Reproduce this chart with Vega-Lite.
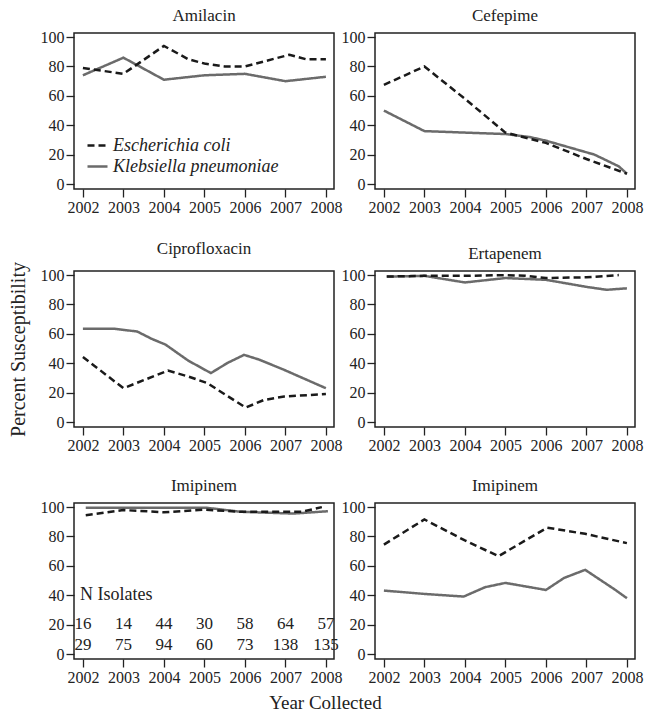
{
  "$schema": "https://vega.github.io/schema/vega-lite/v6.json",
  "padding": {"left": 7, "top": 6, "right": 2, "bottom": 4},
  "background": "white",
  "title": {"text": "Year Collected", "orient": "bottom", "anchor": "middle", "fontSize": 19, "fontWeight": "normal", "font": "Liberation Serif", "color": "#222", "offset": 8},
  "datasets": {
    "pct": [
      {"panel": 1, "drug": "Amilacin", "organism": "Klebsiella pneumoniae", "year": 2002, "pct": 74},
      {"panel": 1, "drug": "Amilacin", "organism": "Klebsiella pneumoniae", "year": 2003, "pct": 86},
      {"panel": 1, "drug": "Amilacin", "organism": "Klebsiella pneumoniae", "year": 2004, "pct": 71},
      {"panel": 1, "drug": "Amilacin", "organism": "Klebsiella pneumoniae", "year": 2005, "pct": 74},
      {"panel": 1, "drug": "Amilacin", "organism": "Klebsiella pneumoniae", "year": 2006, "pct": 75},
      {"panel": 1, "drug": "Amilacin", "organism": "Klebsiella pneumoniae", "year": 2007, "pct": 70},
      {"panel": 1, "drug": "Amilacin", "organism": "Klebsiella pneumoniae", "year": 2008, "pct": 73},
      {"panel": 1, "drug": "Amilacin", "organism": "Escherichia coli", "year": 2002, "pct": 79},
      {"panel": 1, "drug": "Amilacin", "organism": "Escherichia coli", "year": 2003, "pct": 75},
      {"panel": 1, "drug": "Amilacin", "organism": "Escherichia coli", "year": 2004, "pct": 94},
      {"panel": 1, "drug": "Amilacin", "organism": "Escherichia coli", "year": 2004.6, "pct": 85},
      {"panel": 1, "drug": "Amilacin", "organism": "Escherichia coli", "year": 2005, "pct": 82},
      {"panel": 1, "drug": "Amilacin", "organism": "Escherichia coli", "year": 2005.5, "pct": 80},
      {"panel": 1, "drug": "Amilacin", "organism": "Escherichia coli", "year": 2006, "pct": 80},
      {"panel": 1, "drug": "Amilacin", "organism": "Escherichia coli", "year": 2007.1, "pct": 88},
      {"panel": 1, "drug": "Amilacin", "organism": "Escherichia coli", "year": 2007.5, "pct": 85},
      {"panel": 1, "drug": "Amilacin", "organism": "Escherichia coli", "year": 2008, "pct": 85},

      {"panel": 2, "drug": "Cefepime", "organism": "Klebsiella pneumoniae", "year": 2002, "pct": 50},
      {"panel": 2, "drug": "Cefepime", "organism": "Klebsiella pneumoniae", "year": 2003, "pct": 36},
      {"panel": 2, "drug": "Cefepime", "organism": "Klebsiella pneumoniae", "year": 2004, "pct": 35},
      {"panel": 2, "drug": "Cefepime", "organism": "Klebsiella pneumoniae", "year": 2005, "pct": 34},
      {"panel": 2, "drug": "Cefepime", "organism": "Klebsiella pneumoniae", "year": 2005.6, "pct": 32},
      {"panel": 2, "drug": "Cefepime", "organism": "Klebsiella pneumoniae", "year": 2006, "pct": 29.5},
      {"panel": 2, "drug": "Cefepime", "organism": "Klebsiella pneumoniae", "year": 2007.2, "pct": 20},
      {"panel": 2, "drug": "Cefepime", "organism": "Klebsiella pneumoniae", "year": 2007.8, "pct": 12},
      {"panel": 2, "drug": "Cefepime", "organism": "Klebsiella pneumoniae", "year": 2008, "pct": 7},
      {"panel": 2, "drug": "Cefepime", "organism": "Escherichia coli", "year": 2002, "pct": 67.5},
      {"panel": 2, "drug": "Cefepime", "organism": "Escherichia coli", "year": 2003, "pct": 80},
      {"panel": 2, "drug": "Cefepime", "organism": "Escherichia coli", "year": 2004, "pct": 58},
      {"panel": 2, "drug": "Cefepime", "organism": "Escherichia coli", "year": 2005, "pct": 35},
      {"panel": 2, "drug": "Cefepime", "organism": "Escherichia coli", "year": 2006, "pct": 28},
      {"panel": 2, "drug": "Cefepime", "organism": "Escherichia coli", "year": 2007, "pct": 17},
      {"panel": 2, "drug": "Cefepime", "organism": "Escherichia coli", "year": 2008, "pct": 7},

      {"panel": 3, "drug": "Ciprofloxacin", "organism": "Klebsiella pneumoniae", "year": 2002, "pct": 63.5},
      {"panel": 3, "drug": "Ciprofloxacin", "organism": "Klebsiella pneumoniae", "year": 2002.77, "pct": 63.5},
      {"panel": 3, "drug": "Ciprofloxacin", "organism": "Klebsiella pneumoniae", "year": 2003.34, "pct": 61.6},
      {"panel": 3, "drug": "Ciprofloxacin", "organism": "Klebsiella pneumoniae", "year": 2003.7, "pct": 56.6},
      {"panel": 3, "drug": "Ciprofloxacin", "organism": "Klebsiella pneumoniae", "year": 2004.04, "pct": 52.7},
      {"panel": 3, "drug": "Ciprofloxacin", "organism": "Klebsiella pneumoniae", "year": 2004.6, "pct": 41.8},
      {"panel": 3, "drug": "Ciprofloxacin", "organism": "Klebsiella pneumoniae", "year": 2005.16, "pct": 33.3},
      {"panel": 3, "drug": "Ciprofloxacin", "organism": "Klebsiella pneumoniae", "year": 2005.57, "pct": 40.2},
      {"panel": 3, "drug": "Ciprofloxacin", "organism": "Klebsiella pneumoniae", "year": 2005.98, "pct": 45.7},
      {"panel": 3, "drug": "Ciprofloxacin", "organism": "Klebsiella pneumoniae", "year": 2006.35, "pct": 42.5},
      {"panel": 3, "drug": "Ciprofloxacin", "organism": "Klebsiella pneumoniae", "year": 2006.96, "pct": 35.6},
      {"panel": 3, "drug": "Ciprofloxacin", "organism": "Klebsiella pneumoniae", "year": 2008, "pct": 23},
      {"panel": 3, "drug": "Ciprofloxacin", "organism": "Escherichia coli", "year": 2002, "pct": 44.3},
      {"panel": 3, "drug": "Ciprofloxacin", "organism": "Escherichia coli", "year": 2003, "pct": 23},
      {"panel": 3, "drug": "Ciprofloxacin", "organism": "Escherichia coli", "year": 2004.1, "pct": 35},
      {"panel": 3, "drug": "Ciprofloxacin", "organism": "Escherichia coli", "year": 2004.6, "pct": 31},
      {"panel": 3, "drug": "Ciprofloxacin", "organism": "Escherichia coli", "year": 2005.07, "pct": 26.5},
      {"panel": 3, "drug": "Ciprofloxacin", "organism": "Escherichia coli", "year": 2006.02, "pct": 9.8},
      {"panel": 3, "drug": "Ciprofloxacin", "organism": "Escherichia coli", "year": 2006.47, "pct": 15},
      {"panel": 3, "drug": "Ciprofloxacin", "organism": "Escherichia coli", "year": 2006.97, "pct": 17.4},
      {"panel": 3, "drug": "Ciprofloxacin", "organism": "Escherichia coli", "year": 2008, "pct": 19},

      {"panel": 4, "drug": "Ertapenem", "organism": "Klebsiella pneumoniae", "year": 2002.07, "pct": 99},
      {"panel": 4, "drug": "Ertapenem", "organism": "Klebsiella pneumoniae", "year": 2003, "pct": 99.5},
      {"panel": 4, "drug": "Ertapenem", "organism": "Klebsiella pneumoniae", "year": 2004, "pct": 95},
      {"panel": 4, "drug": "Ertapenem", "organism": "Klebsiella pneumoniae", "year": 2005, "pct": 98},
      {"panel": 4, "drug": "Ertapenem", "organism": "Klebsiella pneumoniae", "year": 2006, "pct": 96.8},
      {"panel": 4, "drug": "Ertapenem", "organism": "Klebsiella pneumoniae", "year": 2007, "pct": 92},
      {"panel": 4, "drug": "Ertapenem", "organism": "Klebsiella pneumoniae", "year": 2007.5, "pct": 90},
      {"panel": 4, "drug": "Ertapenem", "organism": "Klebsiella pneumoniae", "year": 2008, "pct": 91},
      {"panel": 4, "drug": "Ertapenem", "organism": "Escherichia coli", "year": 2002.07, "pct": 99},
      {"panel": 4, "drug": "Ertapenem", "organism": "Escherichia coli", "year": 2003, "pct": 99.5},
      {"panel": 4, "drug": "Ertapenem", "organism": "Escherichia coli", "year": 2004, "pct": 99.5},
      {"panel": 4, "drug": "Ertapenem", "organism": "Escherichia coli", "year": 2005, "pct": 100},
      {"panel": 4, "drug": "Ertapenem", "organism": "Escherichia coli", "year": 2005.5, "pct": 99.5},
      {"panel": 4, "drug": "Ertapenem", "organism": "Escherichia coli", "year": 2006, "pct": 98},
      {"panel": 4, "drug": "Ertapenem", "organism": "Escherichia coli", "year": 2007, "pct": 98.5},
      {"panel": 4, "drug": "Ertapenem", "organism": "Escherichia coli", "year": 2007.8, "pct": 100},

      {"panel": 5, "drug": "Imipinem", "organism": "Klebsiella pneumoniae", "year": 2002.07, "pct": 99.5},
      {"panel": 5, "drug": "Imipinem", "organism": "Klebsiella pneumoniae", "year": 2005.07, "pct": 99.5},
      {"panel": 5, "drug": "Imipinem", "organism": "Klebsiella pneumoniae", "year": 2005.9, "pct": 96.8},
      {"panel": 5, "drug": "Imipinem", "organism": "Klebsiella pneumoniae", "year": 2007.2, "pct": 95.6},
      {"panel": 5, "drug": "Imipinem", "organism": "Klebsiella pneumoniae", "year": 2008.05, "pct": 97.2},
      {"panel": 5, "drug": "Imipinem", "organism": "Escherichia coli", "year": 2002.07, "pct": 94.5},
      {"panel": 5, "drug": "Imipinem", "organism": "Escherichia coli", "year": 2003, "pct": 98},
      {"panel": 5, "drug": "Imipinem", "organism": "Escherichia coli", "year": 2004, "pct": 96.5},
      {"panel": 5, "drug": "Imipinem", "organism": "Escherichia coli", "year": 2005, "pct": 98.3},
      {"panel": 5, "drug": "Imipinem", "organism": "Escherichia coli", "year": 2005.9, "pct": 96.8},
      {"panel": 5, "drug": "Imipinem", "organism": "Escherichia coli", "year": 2007.4, "pct": 96.8},
      {"panel": 5, "drug": "Imipinem", "organism": "Escherichia coli", "year": 2007.9, "pct": 100},

      {"panel": 6, "drug": "Imipinem", "organism": "Klebsiella pneumoniae", "year": 2002, "pct": 43.2},
      {"panel": 6, "drug": "Imipinem", "organism": "Klebsiella pneumoniae", "year": 2003, "pct": 40.9},
      {"panel": 6, "drug": "Imipinem", "organism": "Klebsiella pneumoniae", "year": 2003.97, "pct": 39.1},
      {"panel": 6, "drug": "Imipinem", "organism": "Klebsiella pneumoniae", "year": 2004.5, "pct": 45.5},
      {"panel": 6, "drug": "Imipinem", "organism": "Klebsiella pneumoniae", "year": 2005, "pct": 48.4},
      {"panel": 6, "drug": "Imipinem", "organism": "Klebsiella pneumoniae", "year": 2006, "pct": 43.6},
      {"panel": 6, "drug": "Imipinem", "organism": "Klebsiella pneumoniae", "year": 2006.45, "pct": 51.8},
      {"panel": 6, "drug": "Imipinem", "organism": "Klebsiella pneumoniae", "year": 2006.97, "pct": 57.3},
      {"panel": 6, "drug": "Imipinem", "organism": "Klebsiella pneumoniae", "year": 2007.7, "pct": 43.9},
      {"panel": 6, "drug": "Imipinem", "organism": "Klebsiella pneumoniae", "year": 2008, "pct": 38},
      {"panel": 6, "drug": "Imipinem", "organism": "Escherichia coli", "year": 2002, "pct": 74.5},
      {"panel": 6, "drug": "Imipinem", "organism": "Escherichia coli", "year": 2003, "pct": 91.6},
      {"panel": 6, "drug": "Imipinem", "organism": "Escherichia coli", "year": 2004, "pct": 77.3},
      {"panel": 6, "drug": "Imipinem", "organism": "Escherichia coli", "year": 2004.83, "pct": 66.6},
      {"panel": 6, "drug": "Imipinem", "organism": "Escherichia coli", "year": 2006.03, "pct": 86},
      {"panel": 6, "drug": "Imipinem", "organism": "Escherichia coli", "year": 2006.97, "pct": 81.8},
      {"panel": 6, "drug": "Imipinem", "organism": "Escherichia coli", "year": 2008, "pct": 75.5}
    ],
    "isolates": [
      {"organism": "Escherichia coli", "year": 2002, "n": 16},
      {"organism": "Escherichia coli", "year": 2003, "n": 14},
      {"organism": "Escherichia coli", "year": 2004, "n": 44},
      {"organism": "Escherichia coli", "year": 2005, "n": 30},
      {"organism": "Escherichia coli", "year": 2006, "n": 58},
      {"organism": "Escherichia coli", "year": 2007, "n": 64},
      {"organism": "Escherichia coli", "year": 2008, "n": 57},
      {"organism": "Klebsiella pneumoniae", "year": 2002, "n": 29},
      {"organism": "Klebsiella pneumoniae", "year": 2003, "n": 75},
      {"organism": "Klebsiella pneumoniae", "year": 2004, "n": 94},
      {"organism": "Klebsiella pneumoniae", "year": 2005, "n": 60},
      {"organism": "Klebsiella pneumoniae", "year": 2006, "n": 73},
      {"organism": "Klebsiella pneumoniae", "year": 2007, "n": 138},
      {"organism": "Klebsiella pneumoniae", "year": 2008, "n": 135}
    ]
  },
  "columns": 2,
  "align": "each",
  "spacing": {"row": 22, "column": -3},
  "concat": [
    {
      "title": "Amilacin", "width": 260, "height": 156,
      "data": {"name": "pct"},
      "transform": [{"filter": "datum.panel === 1"}],
      "mark": {"type": "line", "strokeWidth": 2.5},
      "encoding": {
        "x": {"field": "year", "type": "quantitative", "scale": {"domain": [2001.78, 2008.2], "nice": false, "zero": false}, "axis": {"values": [2002, 2003, 2004, 2005, 2006, 2007, 2008], "format": "d", "title": null}},
        "y": {"field": "pct", "type": "quantitative", "scale": {"domain": [-3.4, 102.8], "nice": false}, "axis": {"values": [0, 20, 40, 60, 80, 100], "title": null}},
        "color": {"field": "organism", "type": "nominal", "scale": {"domain": ["Escherichia coli", "Klebsiella pneumoniae"], "range": ["#1a1a1a", "#6b6b6b"]},
          "legend": {"title": null, "orient": "none", "legendX": 12, "legendY": 101, "symbolType": "stroke", "symbolSize": 400, "symbolStrokeWidth": 2.5, "labelFont": "Liberation Serif", "labelFontSize": 18, "labelFontStyle": "italic", "labelColor": "#222", "labelOffset": 4, "labelLimit": 0, "rowPadding": 0}},
        "strokeDash": {"field": "organism", "type": "nominal", "scale": {"domain": ["Escherichia coli", "Klebsiella pneumoniae"], "range": [[7, 4], [1, 0]]},
          "legend": {"title": null, "orient": "none", "legendX": 12, "legendY": 101, "symbolType": "stroke", "symbolSize": 400, "symbolStrokeWidth": 2.5, "labelFont": "Liberation Serif", "labelFontSize": 18, "labelFontStyle": "italic", "labelColor": "#222", "labelOffset": 4, "labelLimit": 0, "rowPadding": 0}}
      }
    },
    {
      "title": "Cefepime", "width": 260, "height": 156,
      "data": {"name": "pct"},
      "transform": [{"filter": "datum.panel === 2"}],
      "mark": {"type": "line", "strokeWidth": 2.5},
      "encoding": {
        "x": {"field": "year", "type": "quantitative", "scale": {"domain": [2001.78, 2008.2], "nice": false, "zero": false}, "axis": {"values": [2002, 2003, 2004, 2005, 2006, 2007, 2008], "format": "d", "title": null}},
        "y": {"field": "pct", "type": "quantitative", "scale": {"domain": [-3.4, 102.8], "nice": false}, "axis": {"values": [0, 20, 40, 60, 80, 100], "title": null}},
        "color": {"field": "organism", "type": "nominal", "scale": {"domain": ["Escherichia coli", "Klebsiella pneumoniae"], "range": ["#1a1a1a", "#6b6b6b"]}, "legend": null},
        "strokeDash": {"field": "organism", "type": "nominal", "scale": {"domain": ["Escherichia coli", "Klebsiella pneumoniae"], "range": [[7, 4], [1, 0]]}, "legend": null}
      }
    },
    {
      "title": "Ciprofloxacin", "width": 260, "height": 156,
      "data": {"name": "pct"},
      "transform": [{"filter": "datum.panel === 3"}],
      "mark": {"type": "line", "strokeWidth": 2.5},
      "encoding": {
        "x": {"field": "year", "type": "quantitative", "scale": {"domain": [2001.78, 2008.2], "nice": false, "zero": false}, "axis": {"values": [2002, 2003, 2004, 2005, 2006, 2007, 2008], "format": "d", "title": null}},
        "y": {"field": "pct", "type": "quantitative", "scale": {"domain": [-3.4, 102.8], "nice": false}, "axis": {"values": [0, 20, 40, 60, 80, 100], "title": "Percent Susceptibility", "titleFontSize": 20, "titlePadding": 12}},
        "color": {"field": "organism", "type": "nominal", "scale": {"domain": ["Escherichia coli", "Klebsiella pneumoniae"], "range": ["#1a1a1a", "#6b6b6b"]}, "legend": null},
        "strokeDash": {"field": "organism", "type": "nominal", "scale": {"domain": ["Escherichia coli", "Klebsiella pneumoniae"], "range": [[7, 4], [1, 0]]}, "legend": null}
      }
    },
    {
      "title": "Ertapenem", "width": 260, "height": 156,
      "data": {"name": "pct"},
      "transform": [{"filter": "datum.panel === 4"}],
      "mark": {"type": "line", "strokeWidth": 2.5},
      "encoding": {
        "x": {"field": "year", "type": "quantitative", "scale": {"domain": [2001.78, 2008.2], "nice": false, "zero": false}, "axis": {"values": [2002, 2003, 2004, 2005, 2006, 2007, 2008], "format": "d", "title": null}},
        "y": {"field": "pct", "type": "quantitative", "scale": {"domain": [-3.4, 102.8], "nice": false}, "axis": {"values": [0, 20, 40, 60, 80, 100], "title": null}},
        "color": {"field": "organism", "type": "nominal", "scale": {"domain": ["Escherichia coli", "Klebsiella pneumoniae"], "range": ["#1a1a1a", "#6b6b6b"]}, "legend": null},
        "strokeDash": {"field": "organism", "type": "nominal", "scale": {"domain": ["Escherichia coli", "Klebsiella pneumoniae"], "range": [[7, 4], [1, 0]]}, "legend": null}
      }
    },
    {
      "title": "Imipinem", "width": 260, "height": 156,
      "layer": [
        {
          "data": {"name": "pct"},
          "transform": [{"filter": "datum.panel === 5"}],
          "mark": {"type": "line", "strokeWidth": 2.5},
          "encoding": {
            "x": {"field": "year", "type": "quantitative", "scale": {"domain": [2001.78, 2008.2], "nice": false, "zero": false}, "axis": {"values": [2002, 2003, 2004, 2005, 2006, 2007, 2008], "format": "d", "title": null}},
            "y": {"field": "pct", "type": "quantitative", "scale": {"domain": [-3.4, 102.8], "nice": false}, "axis": {"values": [0, 20, 40, 60, 80, 100], "title": null}},
            "color": {"field": "organism", "type": "nominal", "scale": {"domain": ["Escherichia coli", "Klebsiella pneumoniae"], "range": ["#1a1a1a", "#6b6b6b"]}, "legend": null},
            "strokeDash": {"field": "organism", "type": "nominal", "scale": {"domain": ["Escherichia coli", "Klebsiella pneumoniae"], "range": [[7, 4], [1, 0]]}, "legend": null}
          }
        },
        {
          "data": {"values": [{"label": "N Isolates"}]},
          "mark": {"type": "text", "align": "left", "baseline": "middle", "dx": -3, "font": "Liberation Serif", "fontSize": 18, "color": "#222"},
          "encoding": {
            "x": {"datum": 2002, "type": "quantitative", "scale": {"domain": [2001.78, 2008.2], "nice": false, "zero": false}, "axis": {"values": [2002, 2003, 2004, 2005, 2006, 2007, 2008], "format": "d", "title": null}},
            "y": {"datum": 40, "type": "quantitative", "scale": {"domain": [-3.4, 102.8], "nice": false}, "axis": {"values": [0, 20, 40, 60, 80, 100], "title": null}},
            "text": {"field": "label"}
          }
        },
        {
          "data": {"name": "isolates"},
          "transform": [{"filter": "datum.organism === 'Escherichia coli'"}],
          "mark": {"type": "text", "align": "center", "baseline": "middle", "font": "Liberation Serif", "fontSize": 17, "color": "#222"},
          "encoding": {
            "x": {"field": "year", "type": "quantitative", "scale": {"domain": [2001.78, 2008.2], "nice": false, "zero": false}, "axis": {"values": [2002, 2003, 2004, 2005, 2006, 2007, 2008], "format": "d", "title": null}},
            "y": {"datum": 20.7, "type": "quantitative", "scale": {"domain": [-3.4, 102.8], "nice": false}, "axis": {"values": [0, 20, 40, 60, 80, 100], "title": null}},
            "text": {"field": "n"}
          }
        },
        {
          "data": {"name": "isolates"},
          "transform": [{"filter": "datum.organism === 'Klebsiella pneumoniae'"}],
          "mark": {"type": "text", "align": "center", "baseline": "middle", "font": "Liberation Serif", "fontSize": 17, "color": "#222"},
          "encoding": {
            "x": {"field": "year", "type": "quantitative", "scale": {"domain": [2001.78, 2008.2], "nice": false, "zero": false}, "axis": {"values": [2002, 2003, 2004, 2005, 2006, 2007, 2008], "format": "d", "title": null}},
            "y": {"datum": 6.4, "type": "quantitative", "scale": {"domain": [-3.4, 102.8], "nice": false}, "axis": {"values": [0, 20, 40, 60, 80, 100], "title": null}},
            "text": {"field": "n"}
          }
        }
      ]
    },
    {
      "title": "Imipinem", "width": 260, "height": 156,
      "data": {"name": "pct"},
      "transform": [{"filter": "datum.panel === 6"}],
      "mark": {"type": "line", "strokeWidth": 2.5},
      "encoding": {
        "x": {"field": "year", "type": "quantitative", "scale": {"domain": [2001.78, 2008.2], "nice": false, "zero": false}, "axis": {"values": [2002, 2003, 2004, 2005, 2006, 2007, 2008], "format": "d", "title": null}},
        "y": {"field": "pct", "type": "quantitative", "scale": {"domain": [-3.4, 102.8], "nice": false}, "axis": {"values": [0, 20, 40, 60, 80, 100], "title": null}},
        "color": {"field": "organism", "type": "nominal", "scale": {"domain": ["Escherichia coli", "Klebsiella pneumoniae"], "range": ["#1a1a1a", "#6b6b6b"]}, "legend": null},
        "strokeDash": {"field": "organism", "type": "nominal", "scale": {"domain": ["Escherichia coli", "Klebsiella pneumoniae"], "range": [[7, 4], [1, 0]]}, "legend": null}
      }
    }
  ],
  "resolve": {"legend": {"color": "independent", "strokeDash": "independent"}},
  "config": {
    "font": "Liberation Serif",
    "view": {"stroke": "#222", "strokeWidth": 1.5},
    "title": {"font": "Liberation Serif", "fontSize": 17, "fontWeight": "normal", "color": "#222", "offset": 4},
    "axis": {"domain": false, "grid": false, "ticks": true, "tickColor": "#222", "tickSize": 8, "tickWidth": 1.3, "labelFont": "Liberation Serif", "labelFontSize": 16, "labelColor": "#222", "labelPadding": 2, "labelOverlap": false, "labelFlush": false, "labelBound": false, "titleFont": "Liberation Serif", "titleFontWeight": "normal", "titleColor": "#222"}
  }
}
